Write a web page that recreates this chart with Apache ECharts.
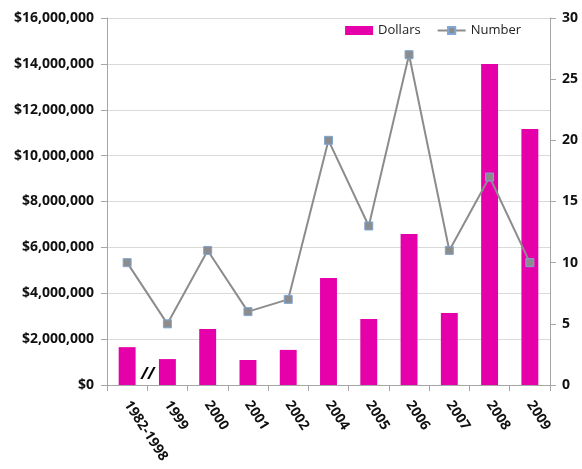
<!DOCTYPE html>
<html><head><meta charset="utf-8">
<script src="https://cdn.jsdelivr.net/npm/echarts@6/dist/echarts.min.js"></script>
<style>html,body{margin:0;padding:0;background:#fff}#c{width:582px;height:469px}</style>
</head><body><div id="c"></div>
<script>
const categories = ['1982-1998','1999','2000','2001','2002','2004','2005','2006','2007','2008','2009'];
const dollars = [1650000,1130000,2440000,1090000,1530000,4660000,2880000,6580000,3140000,14000000,11160000];
const numbers = [10,5,11,6,7,20,13,27,11,17,10];
const FONT = '"Open Sans", "DejaVu Sans", sans-serif';
const chart = echarts.init(document.getElementById('c'));
chart.setOption({
  animation:false,
  textStyle:{fontFamily:FONT},
  legend:{
    top:19, right:56, itemGap:16, itemWidth:28, itemHeight:9,
    textStyle:{fontSize:13,color:'#222',fontFamily:FONT},
    data:[{name:'Dollars',icon:'rect'},{name:'Number'}]
  },
  grid:{left:107,right:32,top:18,bottom:84,containLabel:false},
  xAxis:{
    type:'category', data:categories, boundaryGap:true,
    axisLine:{lineStyle:{color:'#A6A6A6'}},
    axisTick:{show:true,alignWithLabel:false,length:6,lineStyle:{color:'#A6A6A6'}},
    axisLabel:{rotate:-57,interval:0,fontSize:14,fontWeight:'bold',color:'#111',fontFamily:FONT,margin:17}
  },
  yAxis:[{
    type:'value', min:0, max:16000000, interval:2000000,
    axisLine:{show:true,lineStyle:{color:'#A6A6A6'}},
    axisTick:{show:true,length:6,lineStyle:{color:'#A6A6A6'}},
    splitLine:{lineStyle:{color:'#D9D9D9'}},
    axisLabel:{fontSize:14,fontWeight:'bold',color:'#111',fontFamily:FONT,margin:13,
      formatter:v=>'$'+v.toLocaleString('en-US')}
  },{
    type:'value', min:0, max:30, interval:5,
    axisLine:{show:true,lineStyle:{color:'#A6A6A6'}},
    axisTick:{show:true,length:6,lineStyle:{color:'#A6A6A6'}},
    splitLine:{show:false},
    axisLabel:{fontSize:14,fontWeight:'bold',color:'#111',fontFamily:FONT,margin:12}
  }],
  series:[{
    name:'Dollars', type:'bar', data:dollars, barWidth:'42%',
    itemStyle:{color:'#E600AA'}
  },{
    name:'Number', type:'line', yAxisIndex:1, data:numbers,
    symbol:'rect', symbolSize:8,
    lineStyle:{color:'#8C8C8C',width:2},
    itemStyle:{color:'#8C8C8C',borderColor:'#7FA6D4',borderWidth:1}
  }],
  graphic:[{
    type:'text', left:141, top:366,
    style:{text:'//',font:'italic bold 16px '+FONT,fill:'#000'}
  }]
});
</script></body></html>
